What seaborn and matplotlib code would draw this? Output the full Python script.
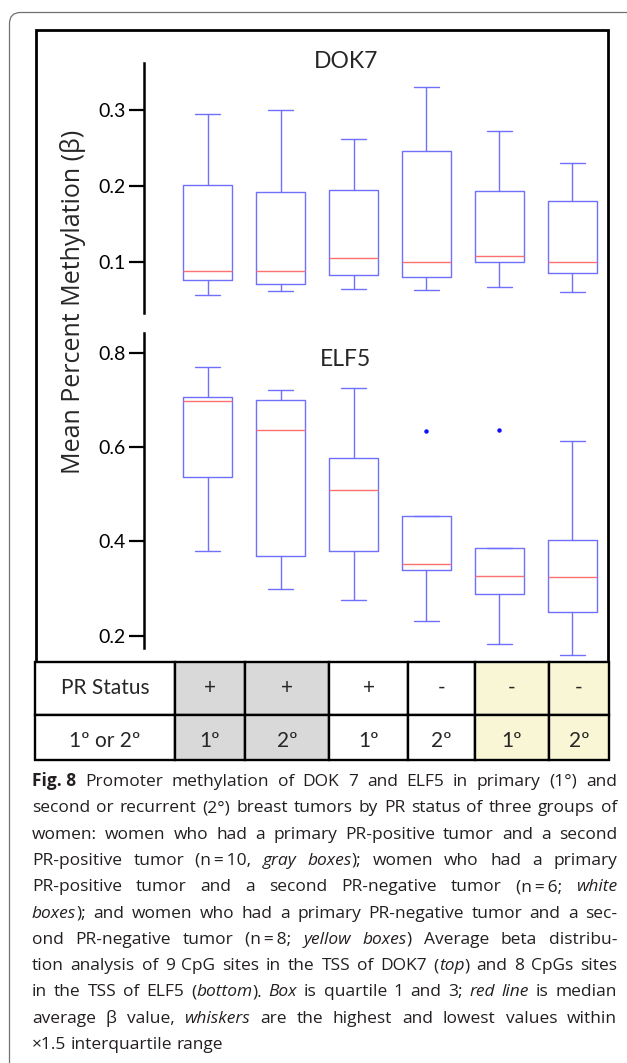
import re
import matplotlib
matplotlib.use("Agg")
import matplotlib.pyplot as plt
from matplotlib.patches import Rectangle, FancyBboxPatch
import seaborn as sns

# ---------------- data ----------------
pr_status = ["+", "+", "+", "-", "-", "-"]
tumor_order = ["1º", "2º", "1º", "2º", "1º", "2º"]
row_labels = ["PR Status", "1º or 2º"]

dok7_low = [0.057, 0.062, 0.064, 0.063, 0.067, 0.060]
dok7_q1 = [0.076, 0.071, 0.083, 0.080, 0.100, 0.086]
dok7_med = [0.088, 0.088, 0.105, 0.100, 0.108, 0.100]
dok7_q3 = [0.201, 0.192, 0.195, 0.246, 0.194, 0.181]
dok7_high = [0.295, 0.301, 0.262, 0.331, 0.273, 0.231]
dok7_out = [[], [], [], [], [], []]

elf5_low = [0.380, 0.299, 0.276, 0.230, 0.182, 0.159]
elf5_q1 = [0.536, 0.369, 0.379, 0.339, 0.288, 0.249]
elf5_med = [0.698, 0.636, 0.509, 0.351, 0.327, 0.324]
elf5_q3 = [0.706, 0.700, 0.577, 0.455, 0.386, 0.403]
elf5_high = [0.771, 0.721, 0.726, 0.455, 0.386, 0.613]
elf5_out = [[], [], [], [0.634], [0.637], []]

dok7_ticks = [0.1, 0.2, 0.3]
elf5_ticks = [0.2, 0.4, 0.6, 0.8]

caption_lines = [
    "**Fig.\u00a08**  Promoter methylation of DOK 7 and ELF5 in primary (1°) and",
    "second or recurrent (2°) breast tumors by PR status of three groups of",
    "women: women who had a primary PR-positive tumor and a second",
    "PR-positive tumor (n\u2009=\u200910, *gray boxes*); women who had a primary",
    "PR-positive tumor and a second PR-negative tumor (n\u2009=\u20096; *white*",
    "*boxes*); and women who had a primary PR-negative tumor and a sec-",
    "ond PR-negative tumor (n\u2009=\u20098; *yellow boxes*) Average beta distribu-",
    "tion analysis of 9 CpG sites in the TSS of DOK7 (*top*) and 8 CpGs sites",
    "in the TSS of ELF5 (*bottom*). *Box* is quartile 1 and 3; *red line* is median",
    "average β value, *whiskers* are the highest and lowest values within",
    "×1.5 interquartile range",
]

# ---------------- style ----------------
sns.set_theme(style="white")
plt.rcParams["font.family"] = ["Lato", "DejaVu Sans"]

W, H = 627, 1063
fig = plt.figure(figsize=(W / 100, H / 100), dpi=100)

BOX_C = "#7070ff"
MED_C = "#ff7070"
GRAY_C = "#d9d9d9"
YEL_C = "#f8f6d4"
FONT = ["Lato", "DejaVu Sans"]
CAP_FONT = ["Open Sans", "DejaVu Sans"]
CAP_C = "#231f20"

# overlay axes in pixel coordinates
ov = fig.add_axes([0, 0, 1, 1])
ov.set_xlim(0, W)
ov.set_ylim(H, 0)
ov.axis("off")

# outer rounded frame
ov.add_patch(FancyBboxPatch((9.5, 12.5), 700, 1100,
                            boxstyle="round,pad=0,rounding_size=11",
                            ec="#707070", fc="none", lw=0.9))
# inner black frame
ov.add_patch(Rectangle((36, 30), 572, 632, ec="black", fc="none", lw=2.0))

# ---------------- chart axes ----------------
x0_px, dx_px = 207.6, 72.96
left_px, right_px = 143.5, 608


def make_ax(top_px, bot_px, ylim, bounds, ticks):
    ax = fig.add_axes([left_px / W, 1 - bot_px / H,
                       (right_px - left_px) / W, (bot_px - top_px) / H])
    ax.set_facecolor("none")
    ax.set_xlim((left_px - x0_px) / dx_px, (right_px - x0_px) / dx_px)
    ax.set_ylim(*ylim)
    sns.despine(ax=ax, top=True, right=True, bottom=True)
    ax.spines["left"].set_color("black")
    ax.spines["left"].set_linewidth(1.8)
    ax.spines["left"].set_bounds(*bounds)
    ax.set_xticks([])
    ax.set_yticks(ticks)
    ax.set_yticklabels([f"{t:.1f}" for t in ticks])
    ax.tick_params(axis="y", direction="out", length=10.5, width=1.6,
                   color="black", pad=2.2, labelsize=14, labelcolor="black",
                   left=True)
    ax.grid(False)
    return ax


def draw_boxes(ax, low, q1, med, q3, high, out):
    stats = []
    for i in range(len(low)):
        stats.append(dict(whislo=low[i], q1=q1[i], med=med[i], q3=q3[i],
                          whishi=high[i], fliers=out[i]))
    ax.bxp(stats, positions=list(range(len(stats))), widths=0.669,
           capwidths=0.335, showfliers=True, manage_ticks=False,
           boxprops=dict(color=BOX_C, lw=1.0),
           whiskerprops=dict(color=BOX_C, lw=1.0),
           capprops=dict(color=BOX_C, lw=1.0),
           medianprops=dict(color=MED_C, lw=1.0),
           flierprops=dict(marker="o", markersize=2.2, markerfacecolor="#1010ff",
                           markeredgecolor="#1010ff", linestyle="none"))


ax1 = make_ax(63, 313, (0.0327, 0.3625), (0.0327, 0.3625), dok7_ticks)
draw_boxes(ax1, dok7_low, dok7_q1, dok7_med, dok7_q3, dok7_high, dok7_out)

ax2 = make_ax(333.3, 658, (0.1523, 0.8421), (0.173, 0.8421), elf5_ticks)
draw_boxes(ax2, elf5_low, elf5_q1, elf5_med, elf5_q3, elf5_high, elf5_out)

# titles
ov.text(346, 62, "DOK7", ha="center", va="center", fontsize=16.5, family=FONT)
ov.text(346, 359, "ELF5", ha="center", va="center", fontsize=16.5, family=FONT)

# y label
ov.text(73, 302, "Mean Percent Methylation (β)", rotation=90, ha="center",
        va="center", fontsize=18, family=["Open Sans", "DejaVu Sans"])

# ---------------- table ----------------
col_edges = [35, 175, 245, 329, 408, 475, 549, 609]
row_edges = [662, 715, 760]
fills = ["white", GRAY_C, GRAY_C, "white", "white", YEL_C, YEL_C]
rows = [[row_labels[0]] + pr_status, [row_labels[1]] + tumor_order]
baselines = [693.5, 747]
for r in range(2):
    for c in range(7):
        x_a, x_b = col_edges[c], col_edges[c + 1]
        y_a, y_b = row_edges[r], row_edges[r + 1]
        ov.add_patch(Rectangle((x_a, y_a), x_b - x_a, y_b - y_a,
                               fc=fills[c], ec="black", lw=1.7))
        ov.text((x_a + x_b) / 2, baselines[r], rows[r][c], ha="center",
                va="baseline", fontsize=15, family=FONT)

# ---------------- caption (justified) ----------------
cap_left, cap_right = 32, 617
avail = cap_right - cap_left
base0, lstep = 786, 26.3
renderer = fig.canvas.get_renderer()


def parse(line):
    parts = re.split(r"(\*\*.*?\*\*|\*.*?\*)", line)
    words = [[]]
    for p in parts:
        if not p:
            continue
        if p.startswith("**"):
            st, t = "bold", p[2:-2]
        elif p.startswith("*"):
            st, t = "italic", p[1:-1]
        else:
            st, t = "normal", p
        chunks = t.split(" ")
        for i, ch in enumerate(chunks):
            if i > 0:
                words.append([])
            if ch:
                words[-1].append((ch, st))
    return [w for w in words if w]


def piece_kw(st, fs):
    return dict(fontsize=fs, family=CAP_FONT, color=CAP_C,
                style="italic" if st == "italic" else "normal",
                weight="bold" if st == "bold" else "normal")


def measure(s, st, fs):
    t = ov.text(0, 0, s, **piece_kw(st, fs))
    w = t.get_window_extent(renderer).width
    t.remove()
    return w


# choose caption size so every justified line fits with gaps >= 0.45 space
base_fs = 11.0
parsed = [parse(l) for l in caption_lines]
sp0 = measure("a a", "normal", base_fs) - measure("aa", "normal", base_fs)
ratios = []
for words in parsed[:-1]:
    tot = sum(measure(s, st, base_fs) for w in words for s, st in w)
    ratios.append(avail / (tot + 0.45 * sp0 * (len(words) - 1)))
cap_fs = max(10.0, min(12.5, base_fs * min(ratios)))

space_w = measure("a a", "normal", cap_fs) - measure("aa", "normal", cap_fs)
for li, words in enumerate(parsed):
    widths = [[measure(s, st, cap_fs) for s, st in w] for w in words]
    total = sum(sum(ws) for ws in widths)
    last = li == len(parsed) - 1
    gap = space_w if last else (avail - total) / (len(words) - 1)
    x = cap_left
    y = base0 + li * lstep
    for w, ws in zip(words, widths):
        for (s, st), pw in zip(w, ws):
            ov.text(x, y, s, ha="left", va="baseline", **piece_kw(st, cap_fs))
            x += pw
        x += gap

fig.savefig("out.png", dpi=100)
